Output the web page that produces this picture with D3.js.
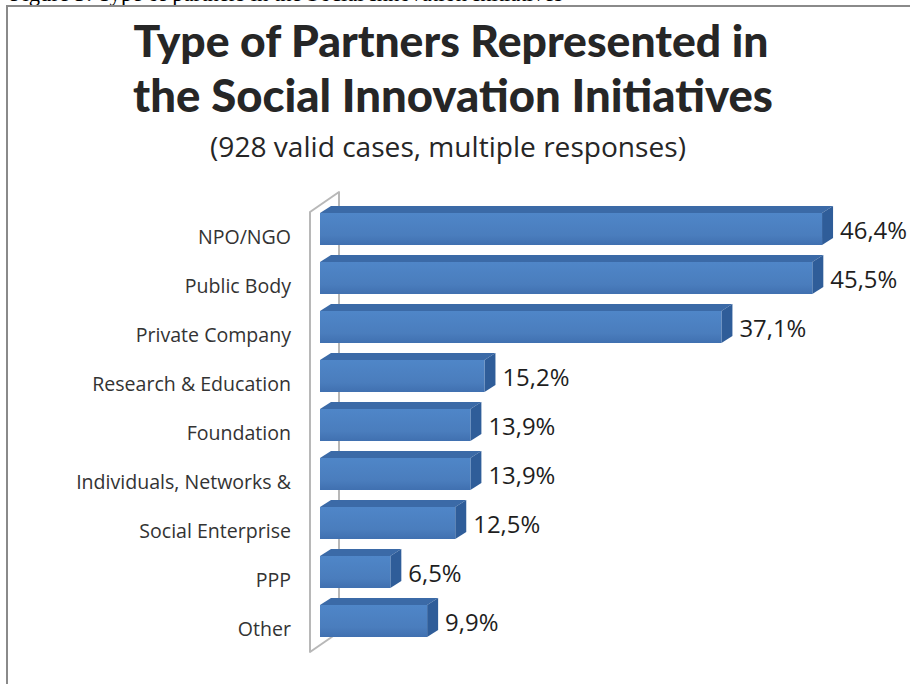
<!DOCTYPE html>
<html><head><meta charset="utf-8">
<script src="https://cdn.jsdelivr.net/npm/d3@7/dist/d3.min.js"></script>
<style>html,body{margin:0;padding:0;background:#fff;overflow:hidden}</style>
</head><body>
<svg id="c" width="910" height="684"></svg>
<script>
const categories = ["NPO/NGO","Public Body","Private Company","Research & Education","Foundation","Individuals, Networks &","Social Enterprise","PPP","Other"];
const values = [46.4, 45.5, 37.1, 15.2, 13.9, 13.9, 12.5, 6.5, 9.9];
const valueLabels = ["46,4%","45,5%","37,1%","15,2%","13,9%","13,9%","12,5%","6,5%","9,9%"];
const titleLines = ["Type of Partners Represented in","the Social Innovation Initiatives"];
const subtitle = "(928 valid cases, multiple responses)";
const caption = "Figure 3: Type of partners in the Social Innovation Initiatives";

const svg = d3.select("#c");
const dx = 11, dy = -7;

function fitSize(sel, target){
  const fs = parseFloat(sel.attr("font-size"));
  const w = sel.node().getComputedTextLength();
  sel.attr("font-size", fs*target/w);
}

// caption (cut off at the top edge, as in the reference)
const cap = svg.append("text").attr("x",10).attr("y",0.5).attr("font-family","Liberation Serif")
  .attr("font-size",24).attr("fill","#000").text(caption);
fitSize(cap, 553);

// frame
svg.append("path").attr("d","M7,700 V6 H915").attr("fill","none").attr("stroke","#8a8a8a").attr("stroke-width",2);

const t1 = svg.append("text").attr("x",451).attr("y",57).attr("text-anchor","middle")
  .attr("font-family","Lato").attr("font-weight",900).attr("font-size",40).attr("fill","#262626").text(titleLines[0]);
fitSize(t1, 635);
const t2 = svg.append("text").attr("x",453).attr("y",112).attr("text-anchor","middle")
  .attr("font-family","Lato").attr("font-weight",900).attr("font-size",40).attr("fill","#262626").text(titleLines[1]);
fitSize(t2, 640);
const st = svg.append("text").attr("x",448).attr("y",157).attr("text-anchor","middle")
  .attr("font-family","Open Sans").attr("font-size",24).attr("fill","#262626").text(subtitle);
fitSize(st, 476);

const x = d3.scaleLinear().domain([0,50]).range([320,861]);
const y = d3.scaleBand().domain(categories).range([204.5,645.5]).paddingInner(0.347).paddingOuter(0.1735);

// back wall
const wallTop = 212, wallBot = 652, wx0 = 310, wdx = 29, wdy = -20;
svg.append("path")
  .attr("d",`M${wx0},${wallBot} V${wallTop} L${wx0+wdx},${wallTop+wdy} V${wallBot+wdy} Z`)
  .attr("fill","none").attr("stroke","#b8b8b8").attr("stroke-width",2).attr("stroke-linejoin","round");

const defs = svg.append("defs");
const g1 = defs.append("linearGradient").attr("id","front").attr("x1",0).attr("y1",0).attr("x2",0).attr("y2",1);
g1.append("stop").attr("offset","0%").attr("stop-color","#4f86c8");
g1.append("stop").attr("offset","70%").attr("stop-color","#4a7dbd");
g1.append("stop").attr("offset","100%").attr("stop-color","#4070b0");

const bars = svg.append("g").selectAll("g").data(categories).join("g");
bars.each(function(c,i){
  const g = d3.select(this);
  const x0 = x(0), x1 = x(values[i]), yt = y(c), h = y.bandwidth();
  g.append("path").attr("d",`M${x0},${yt} L${x0+dx},${yt+dy} L${x1+dx},${yt+dy} L${x1},${yt} Z`).attr("fill","#3b6aa7");
  g.append("path").attr("d",`M${x1},${yt} L${x1+dx},${yt+dy} L${x1+dx},${yt+dy+h} L${x1},${yt+h} Z`).attr("fill","#2f5d99");
  g.append("rect").attr("x",x0).attr("y",yt).attr("width",x1-x0).attr("height",h).attr("fill","url(#front)");
});

// category labels
const cl = svg.append("g").selectAll("text").data(categories).join("text")
  .attr("x",291).attr("y",c=>y(c)+24).attr("dy","0.35em").attr("text-anchor","end")
  .attr("font-family","Open Sans").attr("font-size",16).attr("fill","#333").text(c=>c);
const longest = cl.filter(c=>c==="Individuals, Networks &");
{ const w = longest.node().getComputedTextLength(); cl.attr("font-size",16*215/w); }

// value labels
const vl = svg.append("g").selectAll("text").data(categories).join("text")
  .attr("x",(c,i)=>x(values[i])+18).attr("y",c=>y(c)+18).attr("dy","0.35em")
  .attr("font-family","Open Sans").attr("font-size",21).attr("fill","#1e1e1e").text((c,i)=>valueLabels[i]);
{ const w = vl.filter((c,i)=>i===0).node().getComputedTextLength(); vl.attr("font-size",21*67/w); }
</script>
</body></html>
